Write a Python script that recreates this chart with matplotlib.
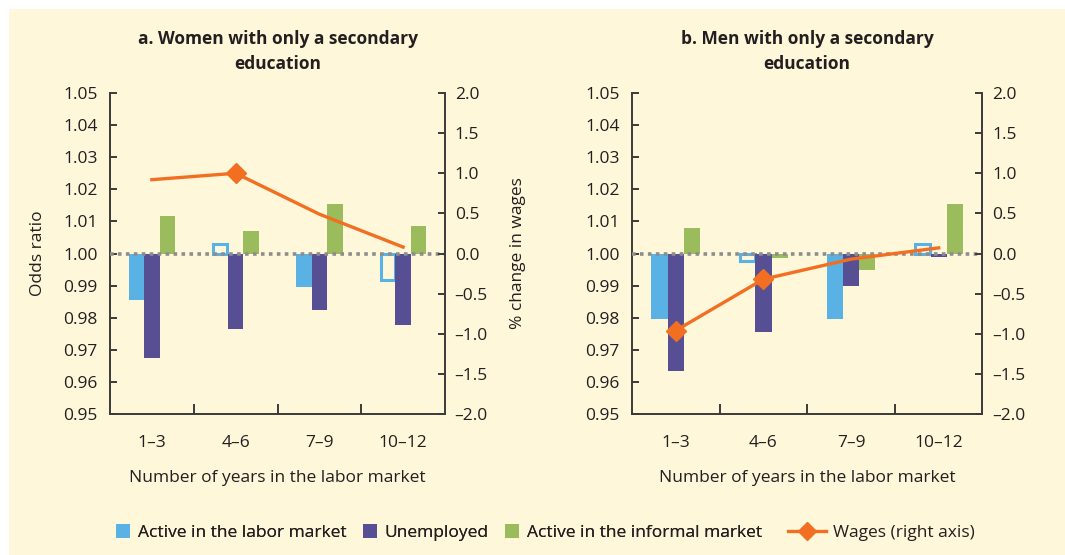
import numpy as np
import matplotlib
matplotlib.use("Agg")
import matplotlib.pyplot as plt
from matplotlib.patches import Rectangle, Patch
from matplotlib.lines import Line2D
from matplotlib.legend_handler import HandlerPatch

plt.rcParams['font.family'] = ['Open Sans', 'DejaVu Sans']

categories = ['1\u20133', '4\u20136', '7\u20139', '10\u201312']

# panel a: women
women_active = [0.9855, 1.003, 0.9895, 0.9917]
women_unemp = [0.9674, 0.9764, 0.9825, 0.9777]
women_informal = [1.0118, 1.0069, 1.0153, 1.0087]
women_wages = [0.92, 1.0, 0.49, 0.08]
women_active_sig = [True, False, True, False]
women_wage_marks = [1]

# panel b: men
men_active = [0.9797, 0.9977, 0.9797, 1.003]
men_unemp = [0.9635, 0.9755, 0.990, 0.999]
men_informal = [1.008, 0.9986, 0.995, 1.0154]
men_wages = [-0.96, -0.32, -0.07, 0.07]
men_active_sig = [True, False, True, False]
men_wage_marks = [0, 1]

BLUE = '#5ab1e3'
PURPLE = '#574f94'
GREEN = '#9bbc5d'
ORANGE = '#f26f22'
TEXT = '#231f20'
SPINE = '#3a3a3a'
CREAM = '#fff7da'

W, H = 1065, 555
fig = plt.figure(figsize=(W / 100, H / 100), dpi=100)
fig.patch.set_facecolor('white')
fig.patches.append(Rectangle((9 / W, 0), 1, 1 - 9 / H, transform=fig.transFigure,
                             facecolor=CREAM, edgecolor='none', zorder=-10))

FS = 12.5


def panel(left, right, title, active, unemp, informal, wages, sig, marks, labels):
    ax = fig.add_axes([left / W, 1 - 414 / H, (right - left) / W, (414 - 93) / H])
    ax.set_facecolor('none')
    x = np.arange(len(categories))
    w = 0.185
    act = np.array(active) - 1
    for i in range(len(x)):
        if sig[i]:
            ax.bar(x[i] - w, act[i], w, bottom=1, color=BLUE, zorder=2)
        else:
            ax.bar(x[i] - w, act[i], w * 0.92, bottom=1, facecolor='none',
                   edgecolor=BLUE, linewidth=2.2, zorder=2)
    ax.bar(x, np.array(unemp) - 1, w, bottom=1, color=PURPLE, zorder=2)
    ax.bar(x + w, np.array(informal) - 1, w, bottom=1, color=GREEN, zorder=2)
    ax.axhline(1.0, color='#8d8d8d', linestyle=(0, (1, 1.2)), linewidth=2.6, zorder=3)
    ax.set_xlim(-0.5, 3.5)
    ax.set_ylim(0.95, 1.05)
    ax.set_yticks(np.arange(0.95, 1.0501, 0.01))
    ax.yaxis.set_major_formatter(matplotlib.ticker.FormatStrFormatter('%.2f'))
    ax.set_xticks(x)
    ax.set_xticklabels(categories)
    ax.set_xticks([0.5, 1.5, 2.5], minor=True)
    ax.tick_params(axis='x', which='major', length=0, pad=15, labelsize=FS, labelcolor=TEXT)
    ax.tick_params(axis='x', which='minor', direction='in', length=7, width=1.4, color=SPINE)
    ax.tick_params(axis='y', direction='in', length=5, width=1.4, color=SPINE,
                   pad=9, labelsize=FS, labelcolor=TEXT)
    for s in ['left', 'right', 'bottom']:
        ax.spines[s].set_color(SPINE)
        ax.spines[s].set_linewidth(1.4)
    ax.spines['top'].set_visible(False)
    ax.spines['right'].set_visible(False)
    ax.set_xlabel('Number of years in the labor market', fontsize=FS, color=TEXT, labelpad=14)
    ax.set_title(title, fontsize=FS, fontweight='bold', color=TEXT, pad=17.5, linespacing=1.45)

    ax2 = ax.twinx()
    ax2.set_ylim(-2.0, 2.0)
    ax2.set_yticks(np.arange(-2.0, 2.01, 0.5))
    ax2.set_yticklabels(['%.1f' % v if v >= 0 else '\u2013%.1f' % abs(v)
                         for v in np.arange(-2.0, 2.01, 0.5)])
    ax2.tick_params(axis='y', direction='in', length=5, width=1.4, color=SPINE,
                    pad=7, labelsize=FS, labelcolor=TEXT)
    for s in ['left', 'top', 'bottom']:
        ax2.spines[s].set_visible(False)
    ax2.spines['right'].set_color(SPINE)
    ax2.spines['right'].set_linewidth(1.4)
    ax2.plot(x, wages, color=ORANGE, linewidth=2.4, marker='D', markersize=10,
             markevery=marks, zorder=5)
    if labels:
        ax.set_ylabel('Odds ratio', fontsize=FS, color=TEXT, labelpad=12)
        ax2.set_ylabel('% change in wages', fontsize=FS, color=TEXT, labelpad=16)
    return ax


panel(110, 445, 'a. Women with only a secondary\neducation', women_active, women_unemp,
      women_informal, women_wages, women_active_sig, women_wage_marks, True)
panel(632, 982.5, 'b. Men with only a secondary\neducation', men_active, men_unemp,
      men_informal, men_wages, men_active_sig, men_wage_marks, False)


class SquareHandler(HandlerPatch):
    def create_artists(self, legend, orig_handle, xdescent, ydescent, width, height,
                       fontsize, trans):
        s = width
        p = Rectangle((-xdescent, -ydescent + (height - s) / 2), s, s,
                      facecolor=orig_handle.get_facecolor(), edgecolor='none',
                      transform=trans)
        return [p]


bar_handles = [Patch(color=BLUE), Patch(color=PURPLE), Patch(color=GREEN)]
bar_names = ['Active in the labor market', 'Unemployed', 'Active in the informal market']
leg1 = fig.legend(bar_handles, bar_names, loc='center left',
                  bbox_to_anchor=(116 / W, 1 - 533 / H), ncol=3, frameon=False,
                  fontsize=FS, labelcolor=TEXT, handlelength=0.8, handleheight=0.8,
                  handletextpad=0.45, columnspacing=0.95, borderpad=0, borderaxespad=0,
                  handler_map={Patch: SquareHandler()})
line_handle = Line2D([], [], color=ORANGE, linewidth=2.4, marker='D', markersize=9)
fig.legend([line_handle], ['Wages (right axis)'], loc='center left',
           bbox_to_anchor=(788 / W, 1 - 533 / H), frameon=False, fontsize=FS,
           labelcolor=TEXT, handlelength=2.2, handletextpad=0.4, borderpad=0,
           borderaxespad=0)
fig.add_artist(leg1)

fig.savefig('out.png', dpi=100)
